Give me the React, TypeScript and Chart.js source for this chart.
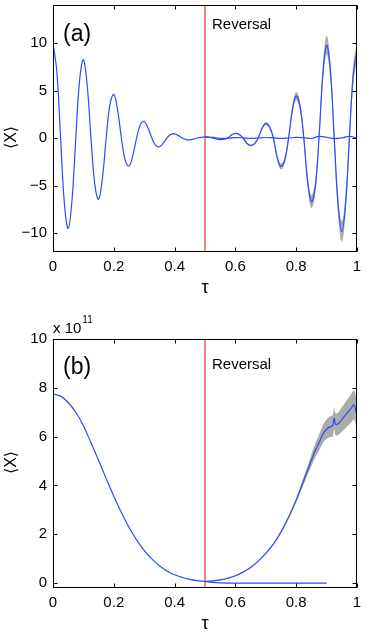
import React, { useEffect, useRef } from 'react';
import { Chart, registerables } from 'chart.js';

Chart.register(...registerables);

// ---------- data ----------
const tauTicks = [0, 0.2, 0.4, 0.6, 0.8, 1];
const yTicksA = [-10, -5, 0, 5, 10];
const yTicksB = [0, 2, 4, 6, 8, 10];
const reversalTau = [0.5];

// Panel (a): forward evolution 0 -> 0.5
const tauA1 = [0, 0.0125, 0.025, 0.0375, 0.05, 0.0625, 0.075, 0.0875, 0.1, 0.1125, 0.125, 0.1375, 0.15, 0.1625, 0.175, 0.1875, 0.2, 0.2125, 0.225, 0.2375, 0.25, 0.2625, 0.275, 0.2875, 0.3, 0.3125, 0.325, 0.3375, 0.35, 0.3625, 0.375, 0.3875, 0.4, 0.4125, 0.425, 0.4375, 0.45, 0.4625, 0.475, 0.4875, 0.5];
const xA1 = [10, 7.05, 0, -6.88, -9.52, -6.55, 0, 6.09, 8.23, 5.52, 0, -4.89, -6.45, -4.23, 0, 3.56, 4.58, 2.93, 0, -2.35, -2.96, -1.85, 0, 1.41, 1.73, 1.05, 0, -0.76, -0.92, -0.54, 0, 0.38, 0.44, 0.25, 0, -0.17, -0.19, -0.11, 0, 0.07, 0.1];

// Panel (a): reversed (revival) 0.5 -> 1, with spread
const tauA2 = [0.5, 0.5125, 0.525, 0.5375, 0.55, 0.5625, 0.575, 0.5875, 0.6, 0.6125, 0.625, 0.6375, 0.65, 0.6625, 0.675, 0.6875, 0.7, 0.7125, 0.725, 0.7375, 0.75, 0.7625, 0.775, 0.7875, 0.8, 0.8125, 0.825, 0.8375, 0.85, 0.8625, 0.875, 0.8875, 0.9, 0.9125, 0.925, 0.9375, 0.95, 0.9625, 0.975, 0.9875, 1];
const xA2 = [0.1, 0.08, 0, -0.12, -0.18, -0.13, 0, 0.33, 0.49, 0.38, 0, -0.55, -0.78, -0.62, 0, 1.0, 1.52, 1.15, 0, -2.05, -3.0, -2.3, 0, 2.95, 4.42, 3.35, 0, -4.55, -6.7, -5.2, 0, 6.6, 9.76, 7.1, 0, -6.85, -9.83, -6.9, 0, 6.6, 9.2];
const sdA2 = [0.04, 0.04, 0.04, 0.04, 0.04, 0.04, 0.04, 0.04, 0.05, 0.06, 0.06, 0.07, 0.08, 0.1, 0.11, 0.13, 0.15, 0.19, 0.23, 0.26, 0.3, 0.34, 0.37, 0.4, 0.45, 0.5, 0.55, 0.6, 0.67, 0.75, 0.82, 0.9, 1.0, 1.0, 1.0, 1.05, 1.1, 1.05, 1.0, 1.0, 1.0];

// Panel (a): non-reversed continuation 0.5 -> 1
const tauA3 = [0.5, 0.525, 0.55, 0.575, 0.6, 0.625, 0.65, 0.675, 0.7, 0.725, 0.75, 0.775, 0.8, 0.825, 0.85, 0.875, 0.9, 0.925, 0.95, 0.975, 1];
const xA3 = [0.12, 0.06, -0.04, -0.02, 0.04, 0.02, -0.04, 0.0, 0.05, 0.02, -0.03, 0.0, 0.06, 0.03, -0.05, 0.17, 0.08, -0.07, 0.02, 0.17, 0.0];

// Panel (b) (units of 1e11)
const tauB1 = [0, 0.025, 0.05, 0.075, 0.1, 0.125, 0.15, 0.175, 0.2, 0.225, 0.25, 0.275, 0.3, 0.325, 0.35, 0.375, 0.4, 0.425, 0.45, 0.475, 0.5];
const xB1 = [7.75, 7.66, 7.4, 7.0, 6.45, 5.75, 5.02, 4.28, 3.56, 2.89, 2.29, 1.77, 1.34, 0.99, 0.71, 0.5, 0.34, 0.23, 0.15, 0.1, 0.07];

const tauB2 = [0.5, 0.525, 0.55, 0.575, 0.6, 0.625, 0.65, 0.675, 0.7, 0.725, 0.75, 0.775, 0.8, 0.82, 0.84, 0.86, 0.875, 0.89, 0.9, 0.91, 0.92, 0.925, 0.93, 0.94, 0.95, 0.96, 0.97, 0.98, 0.99, 1.0];
const xB2 = [0.07, 0.09, 0.13, 0.2, 0.3, 0.45, 0.64, 0.9, 1.22, 1.6, 2.1, 2.7, 3.4, 4.05, 4.7, 5.35, 5.75, 6.15, 6.3, 6.4, 6.45, 6.75, 6.5, 6.55, 6.7, 6.85, 7.0, 7.15, 7.3, 6.85];
const sdB2 = [0.02, 0.02, 0.02, 0.02, 0.02, 0.02, 0.02, 0.02, 0.03, 0.03, 0.05, 0.07, 0.1, 0.14, 0.2, 0.28, 0.33, 0.37, 0.4, 0.42, 0.44, 0.45, 0.45, 0.47, 0.5, 0.53, 0.55, 0.58, 0.6, 0.62];

const tauB3 = [0.5, 0.525, 0.55, 0.6, 0.7, 0.8, 0.9];
const xB3 = [0.07, 0.03, 0.01, 0.0, 0.0, 0.0, 0.0];

// ---------- styles ----------
const FONT = '"Liberation Sans", Arial, Helvetica, "DejaVu Sans", sans-serif';
const BLUE = 'rgb(45,75,255)';
const RED = 'rgb(240,100,100)';
const GREY = 'rgb(172,172,172)';

const pts = (t: number[], v: number[]) => t.map((x, i) => ({ x, y: v[i] }));
const ptsOff = (t: number[], v: number[], s: number[], sign: number) =>
  t.map((x, i) => ({ x, y: v[i] + sign * s[i] }));

const fmt = (v: number) => (v < 0 ? '\u2212' + Math.abs(v) : String(v));

const decorPlugin = {
  id: 'decor',
  afterDatasetsDraw(chart: any, _args: any, o: any) {
    const { ctx, chartArea: a } = chart;
    const xs = chart.scales.x;
    const ys = chart.scales.y;
    ctx.save();
    ctx.strokeStyle = '#000';
    ctx.lineWidth = 1;
    const L = Math.round(a.left) + 0.5;
    const R = Math.round(a.right) - 0.5;
    const T = Math.round(a.top) + 0.5;
    const B = Math.round(a.bottom) - 0.5;
    ctx.strokeRect(L, T, R - L, B - T);
    const tl = 4;
    ctx.beginPath();
    for (const t of xs.ticks) {
      const px = Math.round(xs.getPixelForValue(t.value)) + 0.5;
      ctx.moveTo(px, B);
      ctx.lineTo(px, B - tl);
      ctx.moveTo(px, T);
      ctx.lineTo(px, T + tl);
    }
    for (const t of ys.ticks) {
      const py = Math.round(ys.getPixelForValue(t.value)) + 0.5;
      ctx.moveTo(L, py);
      ctx.lineTo(L + tl, py);
      ctx.moveTo(R, py);
      ctx.lineTo(R - tl, py);
    }
    ctx.stroke();

    ctx.fillStyle = '#000';
    ctx.textAlign = 'left';
    ctx.textBaseline = 'alphabetic';
    ctx.font = `23px ${FONT}`;
    ctx.fillText(o.label, a.left + 10, o.labelY);
    ctx.font = `15px ${FONT}`;
    ctx.fillText('Reversal', xs.getPixelForValue(reversalTau[0]) + 7, o.revY);
    if (o.exponent) {
      ctx.font = `15px ${FONT}`;
      ctx.fillText('x 10', a.left, o.expY);
      const w = ctx.measureText('x 10').width;
      ctx.font = `10px ${FONT}`;
      ctx.fillText(o.exponent, a.left + w + 1, o.expY - 10);
    }
    ctx.translate(12, o.yTitleY);
    ctx.rotate(-Math.PI / 2);
    ctx.textAlign = 'center';
    ctx.textBaseline = 'middle';
    ctx.font = `16px ${FONT}`;
    ctx.fillText('\u27E8X\u27E9', 0, 0);
    ctx.restore();
  },
};

type Panel = {
  yMin: number;
  yMax: number;
  yTicks: number[];
  lines: { t: number[]; v: number[] }[];
  band: { t: number[]; v: number[]; s: number[] };
  topPad: number;
  label: string;
  labelY: number;
  revY: number;
  yTitleY: number;
  exponent?: string;
  expY?: number;
};

function makeConfig(p: Panel): any {
  const lineSets = p.lines.map((l) => ({
    data: pts(l.t, l.v),
    borderColor: BLUE,
    borderWidth: 1.2,
    pointRadius: 0,
    fill: false,
    tension: 0.4,
  }));
  const datasets: any[] = [
    ...lineSets,
    {
      data: [
        { x: reversalTau[0], y: p.yMin },
        { x: reversalTau[0], y: p.yMax },
      ],
      borderColor: RED,
      borderWidth: 1.6,
      pointRadius: 0,
      fill: false,
    },
    {
      data: ptsOff(p.band.t, p.band.v, p.band.s, 1),
      borderWidth: 0,
      borderColor: 'rgba(0,0,0,0)',
      backgroundColor: GREY,
      pointRadius: 0,
      fill: '+1',
      tension: 0.4,
    },
    {
      data: ptsOff(p.band.t, p.band.v, p.band.s, -1),
      borderWidth: 0,
      borderColor: 'rgba(0,0,0,0)',
      pointRadius: 0,
      fill: false,
      tension: 0.4,
    },
  ];
  return {
    type: 'line',
    data: { datasets },
    plugins: [decorPlugin],
    options: {
      animation: false,
      responsive: false,
      events: [],
      layout: { padding: { left: 0, right: 25, top: p.topPad, bottom: 0 } },
      plugins: {
        legend: { display: false },
        tooltip: { enabled: false },
        decor: {
          label: p.label,
          labelY: p.labelY,
          revY: p.revY,
          yTitleY: p.yTitleY,
          exponent: p.exponent,
          expY: p.expY,
        },
      },
      scales: {
        x: {
          type: 'linear',
          min: 0,
          max: 1,
          grid: { display: false, drawTicks: false },
          border: { display: false },
          afterBuildTicks: (s: any) => {
            s.ticks = tauTicks.map((value) => ({ value }));
          },
          afterFit: (s: any) => {
            s.height = 48;
            s.paddingLeft = 0;
            s.paddingRight = 0;
          },
          ticks: {
            autoSkip: false,
            maxRotation: 0,
            padding: 6,
            color: '#000',
            font: { family: FONT, size: 15 },
            callback: (v: number) => String(v),
          },
          title: {
            display: true,
            text: '\u03C4',
            color: '#000',
            font: { family: FONT, size: 18 },
            padding: { top: 0, bottom: 1 },
          },
        },
        y: {
          type: 'linear',
          min: p.yMin,
          max: p.yMax,
          grid: { display: false, drawTicks: false },
          border: { display: false },
          afterBuildTicks: (s: any) => {
            s.ticks = p.yTicks.map((value) => ({ value }));
          },
          afterFit: (s: any) => {
            s.width = 53;
            s.paddingTop = 0;
            s.paddingBottom = 0;
          },
          ticks: {
            autoSkip: false,
            padding: 6,
            color: '#000',
            font: { family: FONT, size: 15 },
            callback: (v: number) => fmt(v),
          },
        },
      },
    },
  };
}

const panelA: Panel = {
  yMin: -12,
  yMax: 14,
  yTicks: yTicksA,
  lines: [
    { t: tauA1, v: xA1 },
    { t: tauA2, v: xA2 },
    { t: tauA3, v: xA3 },
  ],
  band: { t: tauA2, v: xA2, s: sdA2 },
  topPad: 5,
  label: '(a)',
  labelY: 41,
  revY: 29,
  yTitleY: 137.5,
};

const panelB: Panel = {
  yMin: -0.2,
  yMax: 10,
  yTicks: yTicksB,
  lines: [
    { t: tauB1, v: xB1 },
    { t: tauB2, v: xB2 },
    { t: tauB3, v: xB3 },
  ],
  band: { t: tauB2, v: xB2, s: sdB2 },
  topPad: 39,
  label: '(b)',
  labelY: 73.5,
  revY: 69.3,
  yTitleY: 162.5,
  exponent: '11',
  expY: 33.3,
};

function ChartCanvas({ panel, width, height, top }: { panel: Panel; width: number; height: number; top: number }) {
  const ref = useRef<HTMLCanvasElement | null>(null);
  useEffect(() => {
    if (!ref.current) return;
    const chart = new Chart(ref.current, makeConfig(panel));
    return () => chart.destroy();
  }, [panel]);
  return (
    <canvas
      ref={ref}
      width={width}
      height={height}
      style={{ position: 'absolute', left: 0, top, width, height }}
    />
  );
}

export default function App() {
  return (
    <div style={{ position: 'absolute', left: 0, top: 0, width: 382, height: 636, background: '#fff' }}>
      <ChartCanvas panel={panelA} width={382} height={300} top={0} />
      <ChartCanvas panel={panelB} width={382} height={336} top={300} />
    </div>
  );
}
